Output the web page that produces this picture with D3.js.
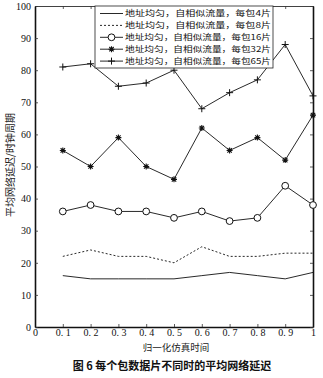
<!DOCTYPE html>
<html>
<head>
<meta charset="utf-8">
<script src="https://cdn.jsdelivr.net/npm/d3@7/dist/d3.min.js"></script>
<style>
  html, body { margin: 0; padding: 0; background: #fff; }
  svg { display: block; }
</style>
</head>
<body>
<script>
// Normalised simulation time
const times = [0.1, 0.2, 0.3, 0.4, 0.5, 0.6, 0.7, 0.8, 0.9, 1.0];

// Average network latency (clock cycles) for each packet size
const flits4  = [16, 15, 15, 15, 15, 16, 17, 16, 15, 17];
const flits8  = [22, 24, 22, 22, 20, 25, 22, 22, 23, 23];
const flits16 = [36, 38, 36, 36, 34, 36, 33, 34, 44, 38];
const flits32 = [55, 50, 59, 50, 46, 62, 55, 59, 52, 66];
const flits65 = [81, 82, 75, 76, 80, 68, 73, 77, 88, 72];

const legendLabels = [
  "地址均匀，自相似流量，每包4片",
  "地址均匀，自相似流量，每包8片",
  "地址均匀，自相似流量，每包16片",
  "地址均匀，自相似流量，每包32片",
  "地址均匀，自相似流量，每包65片"
];
const xTicks = [0, 0.1, 0.2, 0.3, 0.4, 0.5, 0.6, 0.7, 0.8, 0.9, 1];
const xTickLabels = ["0", "0. 1", "0. 2", "0. 3", "0. 4", "0. 5", "0. 6", "0. 7", "0. 8", "0. 9", "1"];
const yTicks = [0, 10, 20, 30, 40, 50, 60, 70, 80, 90, 100];

const xTitle = "归一化仿真时间";
const yTitle = "平均网络延迟/时钟周期";
const caption = "图 6  每个包数据片不同时的平均网络延迟";

const series = [
  { values: flits4,  dash: null,  marker: "none" },
  { values: flits8,  dash: "2,2", marker: "none" },
  { values: flits16, dash: null,  marker: "circle" },
  { values: flits32, dash: null,  marker: "star" },
  { values: flits65, dash: null,  marker: "plus" }
];

const W = 323, H = 378;
const m = { left: 35, right: 10, top: 6, bottom: 51 };
const iw = W - m.left - m.right, ih = H - m.top - m.bottom;

const svg = d3.select("body").append("svg").attr("width", W).attr("height", H);
const g = svg.append("g").attr("transform", `translate(${m.left},${m.top})`);

const x = d3.scaleLinear().domain([0, 1]).range([0, iw]);
const y = d3.scaleLinear().domain([0, 100]).range([ih, 0]);

const numFont = "'Liberation Serif', 'DejaVu Serif', serif";
const cjkFont = "'Noto Sans CJK SC', 'Noto Sans', sans-serif";

// Axes with short inward ticks on all four sides
const xAxisB = d3.axisBottom(x).tickValues(xTicks).tickSizeInner(-3).tickSizeOuter(0)
  .tickFormat((d, i) => xTickLabels[i]).tickPadding(2);
const xAxisT = d3.axisTop(x).tickValues(xTicks).tickSizeInner(-3).tickSizeOuter(0).tickFormat("");
const yAxisL = d3.axisLeft(y).tickValues(yTicks).tickSizeInner(-3).tickSizeOuter(0).tickPadding(4);
const yAxisR = d3.axisRight(y).tickValues(yTicks).tickSizeInner(-3).tickSizeOuter(0).tickFormat("");

function styleAxis(sel) {
  sel.select(".domain").attr("stroke", "#111").attr("stroke-width", 1.6);
  sel.selectAll(".tick line").attr("stroke", "#333").attr("stroke-width", 0.8);
  sel.selectAll("text").attr("font-family", numFont).attr("font-size", 10).attr("fill", "#111");
}
g.append("g").attr("transform", `translate(0,${ih})`).call(xAxisB).call(styleAxis);
g.append("g").call(xAxisT).call(styleAxis).select(".domain").attr("stroke-width", 0.8);
g.append("g").call(yAxisL).call(styleAxis);
g.append("g").attr("transform", `translate(${iw},0)`).call(yAxisR).call(styleAxis);

// Lines
const line = d3.line().x((d, i) => x(times[i])).y(d => y(d));
series.forEach(s => {
  g.append("path").datum(s.values)
    .attr("fill", "none").attr("stroke", "#111").attr("stroke-width", 0.9)
    .attr("stroke-dasharray", s.dash).attr("d", line);
});

// Markers
function drawMarker(sel, type, cx, cy) {
  if (type === "circle") {
    sel.append("circle").attr("cx", cx).attr("cy", cy).attr("r", 3.4)
      .attr("fill", "#fff").attr("stroke", "#111").attr("stroke-width", 1);
  } else if (type === "plus") {
    sel.append("path").attr("d", `M${cx - 3.5},${cy}H${cx + 3.5}M${cx},${cy - 3.5}V${cy + 3.5}`)
      .attr("stroke", "#111").attr("stroke-width", 1);
  } else if (type === "star") {
    sel.append("path")
      .attr("d", `M${cx - 3},${cy}H${cx + 3}M${cx},${cy - 3}V${cy + 3}M${cx - 2.2},${cy - 2.2}L${cx + 2.2},${cy + 2.2}M${cx - 2.2},${cy + 2.2}L${cx + 2.2},${cy - 2.2}`)
      .attr("stroke", "#111").attr("stroke-width", 1.1);
  }
}
series.forEach(s => {
  if (s.marker === "none") return;
  const mg = g.append("g");
  s.values.forEach((v, i) => drawMarker(mg, s.marker, x(times[i]), y(v)));
});

// Legend box in upper area
const lg = svg.append("g").attr("transform", "translate(95,6)");
lg.append("rect").attr("width", 178).attr("height", 62)
  .attr("fill", "#fff").attr("stroke", "#222").attr("stroke-width", 0.8);
legendLabels.forEach((t, i) => {
  const yy = 7.5 + i * 11.9;
  const s = series[i];
  lg.append("line").attr("x1", 5).attr("x2", 28).attr("y1", yy).attr("y2", yy)
    .attr("stroke", "#111").attr("stroke-width", 0.9).attr("stroke-dasharray", s.dash);
  drawMarker(lg, s.marker, 16.5, yy);
  lg.append("text").attr("x", 30).attr("y", yy).attr("dy", "0.35em")
    .attr("font-family", cjkFont).attr("font-size", 8.2).attr("fill", "#111")
    .attr("textLength", 146).attr("lengthAdjust", "spacingAndGlyphs")
    .text(t);
});

// Axis titles
svg.append("text").attr("x", m.left + iw / 2 + 2).attr("y", 351)
  .attr("text-anchor", "middle").attr("font-family", cjkFont).attr("font-size", 9.5).attr("fill", "#222")
  .text(xTitle);
svg.append("text").attr("transform", `translate(14,165) rotate(-90)`)
  .attr("text-anchor", "middle").attr("font-family", cjkFont).attr("font-size", 10).attr("fill", "#222")
  .text(yTitle);

// Caption
svg.append("text").attr("x", 172).attr("y", 370)
  .attr("text-anchor", "middle").attr("font-family", cjkFont).attr("font-size", 11)
  .attr("font-weight", "bold").attr("fill", "#111")
  .text(caption);
</script>
</body>
</html>
